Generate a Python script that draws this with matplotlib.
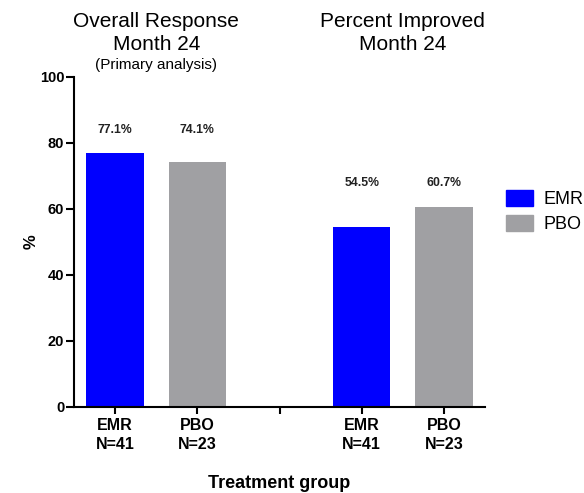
import matplotlib.pyplot as plt
from matplotlib.patches import Patch
import matplotlib.transforms as mtransforms

plt.rcParams['font.family'] = ['Liberation Sans', 'DejaVu Sans']

# data
groups = ['Overall Response\nMonth 24', 'Percent Improved\nMonth 24']
treatments = ['EMR', 'PBO']
n_patients = [41, 23]
overall = [77.1, 74.1]
improved = [54.5, 60.7]
colors = ['#0000FF', '#A0A0A3']

fig = plt.figure(figsize=(5.84, 4.93), dpi=100)
ax = fig.add_axes([74/584, 1 - 407/493, 411/584, 330/493])

x_groups = [[0, 1], [3, 4]]
values = [overall, improved]
label_y = [84, 68]
for xs, vals, ly in zip(x_groups, values, label_y):
    ax.bar(xs, vals, width=0.7, color=colors)
    for x, v in zip(xs, vals):
        ax.text(x, ly, f'{v}%', ha='center', va='center',
                fontsize=8.8, fontweight='bold', color='#222222')

ax.set_xlim(-0.5, 4.5)
ax.set_ylim(0, 100)
ax.set_yticks([0, 20, 40, 60, 80, 100])
labels = [f'{t}\nN={n}' for t, n in zip(treatments, n_patients)]
ax.set_xticks([0, 1, 2, 3, 4])
ax.set_xticklabels(labels + [''] + labels, fontsize=11.5, fontweight='bold',
                   linespacing=1.35)
for lab in ax.get_yticklabels():
    lab.set_fontweight('bold')
    lab.set_fontsize(10.5)
ax.tick_params(axis='y', length=6, width=1.5, pad=1)
ax.tick_params(axis='x', length=5, width=1.5, pad=3)
for s in ['top', 'right']:
    ax.spines[s].set_visible(False)
for s in ['left', 'bottom']:
    ax.spines[s].set_linewidth(1.5)

ax.set_ylabel('%', fontsize=12, fontweight='bold', labelpad=1)
ax.set_xlabel('Treatment group', fontsize=13, fontweight='bold', labelpad=16.5)

trans = mtransforms.blended_transform_factory(ax.transData, fig.transFigure)
for xs, g in zip(x_groups, groups):
    ax.text(sum(xs) / 2, 1 - 33/493, g, transform=trans, ha='center',
            va='center', fontsize=15, linespacing=1.3)
ax.text(0.5, 1 - 65.5/493, '(Primary analysis)', transform=trans,
        ha='center', va='center', fontsize=11)

handles = [Patch(color=c) for c in colors]
fig.legend(handles, treatments, loc='upper left',
           bbox_to_anchor=(506/584, 1 - 190/493), frameon=False,
           fontsize=13, handlelength=1.5, handleheight=0.95,
           labelspacing=0.4, handletextpad=0.6, borderpad=0, borderaxespad=0)

fig.savefig('out.png', dpi=100)
